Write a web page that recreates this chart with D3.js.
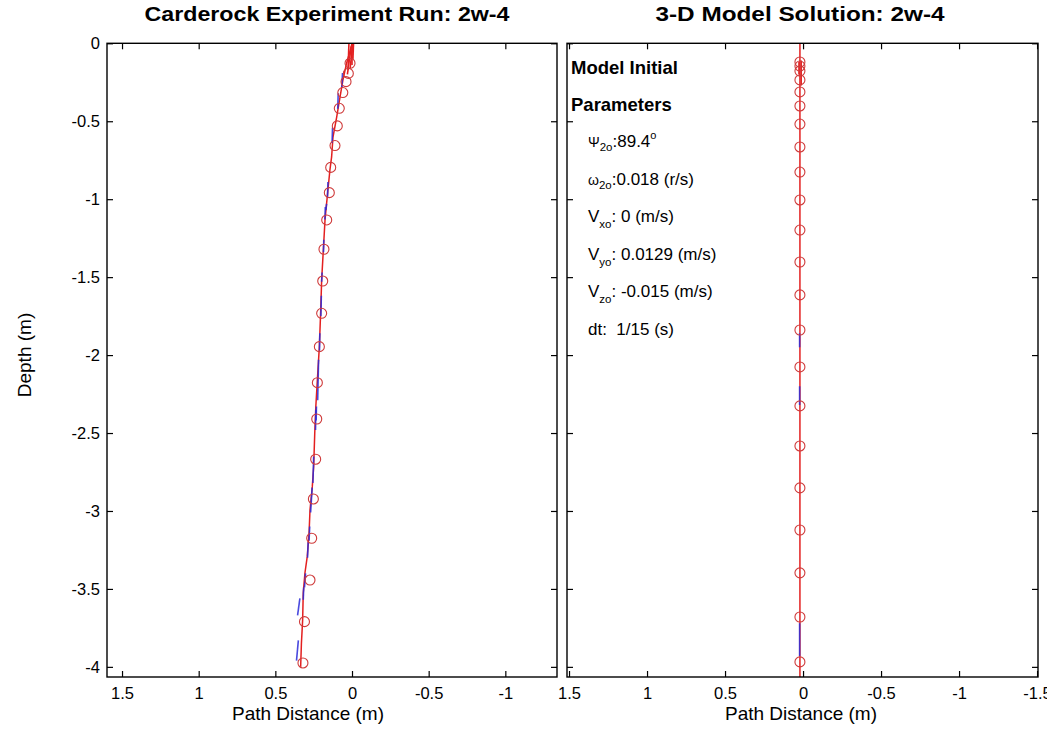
<!DOCTYPE html>
<html><head><meta charset="utf-8">
<script src="https://cdn.jsdelivr.net/npm/d3@7"></script>
<style>
html,body{margin:0;padding:0;background:#fff;}
svg{display:block;font-family:"Liberation Sans",Arial,sans-serif;}
</style></head>
<body>
<svg id="chart" width="1047" height="747"></svg>
<script>
// ---------------- data ----------------
const panelTitles = ["Carderock Experiment Run: 2w-4", "3-D Model Solution: 2w-4"];
const xAxisLabel = "Path Distance (m)";
const yAxisLabel = "Depth (m)";

const depthTicks = [0, -0.5, -1, -1.5, -2, -2.5, -3, -3.5, -4];
const depthTickLabels = ["0", "-0.5", "-1", "-1.5", "-2", "-2.5", "-3", "-3.5", "-4"];
const leftXTicks = [1.5, 1, 0.5, 0, -0.5, -1];
const leftXTickLabels = ["1.5", "1", "0.5", "0", "-0.5", "-1"];
const rightXTicks = [1.5, 1, 0.5, 0, -0.5, -1, -1.5];
const rightXTickLabels = ["1.5", "1", "0.5", "0", "-0.5", "-1", "-1.5"];

// experiment: red trajectory
const expPathX = [0.0, 0.013, 0.035, 0.059, 0.078, 0.10, 0.124, 0.133, 0.144, 0.157, 0.17, 0.176, 0.187, 0.198, 0.204, 0.213, 0.226, 0.236, 0.243, 0.25, 0.259, 0.274, 0.28, 0.292, 0.307, 0.318, 0.322, 0.33, 0.335];
const expPathDepth = [0, -0.05, -0.126, -0.235, -0.344, -0.473, -0.601, -0.729, -0.812, -0.941, -1.07, -1.133, -1.326, -1.518, -1.711, -1.946, -2.16, -2.33, -2.5, -2.716, -2.844, -2.994, -3.14, -3.293, -3.398, -3.526, -3.7, -3.85, -4.0];
// experiment: extra short red strokes near the surface [x1, d1, x2, d2]
const expRedStrokes = [[0.0, 0, 0.0, -0.14], [-0.01, 0, -0.006, -0.1], [0.02, 0, 0.026, -0.17], [0.005, -0.02, 0.03, -0.2], [-0.005, 0, 0.012, -0.16]];
// experiment: short blue body strokes [x1, d1, x2, d2]
const expBlueStrokes = [
  [0.062, -0.19, 0.066, -0.28], [0.09, -0.32, 0.093, -0.42], [0.127, -0.54, 0.13, -0.64],
  [0.157, -0.89, 0.16, -0.99], [0.166, -1.03, 0.17, -1.07], [0.174, -1.05, 0.177, -1.13],
  [0.184, -1.26, 0.186, -1.34], [0.195, -1.47, 0.198, -1.53], [0.2, -1.62, 0.203, -1.75],
  [0.21, -1.86, 0.212, -1.97], [0.218, -2.03, 0.224, -2.29], [0.232, -2.33, 0.234, -2.42],
  [0.236, -2.35, 0.238, -2.48], [0.25, -2.65, 0.255, -2.82], [0.26, -2.85, 0.27, -3.01],
  [0.276, -3.1, 0.28, -3.19], [0.286, -3.2, 0.29, -3.3], [0.303, -3.4, 0.31, -3.49],
  [0.315, -3.49, 0.318, -3.57], [0.34, -3.56, 0.355, -3.67], [0.35, -3.83, 0.362, -3.96]
];
// experiment: circle markers
const expCircleX = [0.013, 0.024, 0.039, 0.060, 0.083, 0.096, 0.111, 0.139, 0.148, 0.165, 0.183, 0.191, 0.198, 0.213, 0.226, 0.230, 0.237, 0.252, 0.263, 0.274, 0.31, 0.32];
const expCircleDepth = [-0.128, -0.193, -0.246, -0.316, -0.417, -0.530, -0.656, -0.796, -0.958, -1.133, -1.321, -1.525, -1.732, -1.946, -2.177, -2.41, -2.668, -2.923, -3.175, -3.443, -3.71, -3.975];

// model: red trajectory, blue strokes, circles
const modelPathX = [0.02, 0.02];
const modelPathDepth = [0, -4.07];
const modelRedStrokes = [[0.012, -0.11, 0.012, -0.27], [0.026, -0.12, 0.026, -0.2]];
const modelBlueStrokes = [[0.022, -1.86, 0.022, -1.95], [0.022, -2.2, 0.022, -2.32], [0.022, -3.72, 0.022, -3.93]];
const modelCircleX = [0.02, 0.02, 0.02, 0.02, 0.02, 0.02, 0.02, 0.02, 0.02, 0.02, 0.02, 0.02, 0.02, 0.02, 0.02, 0.02, 0.02, 0.02, 0.02, 0.02, 0.02, 0.02];
const modelCircleDepth = [-0.120, -0.146, -0.178, -0.235, -0.312, -0.402, -0.518, -0.665, -0.826, -1.005, -1.198, -1.403, -1.614, -1.839, -2.076, -2.326, -2.583, -2.852, -3.122, -3.397, -3.680, -3.968];

// model parameters text box
const paramHeading = ["Model Initial", "Parameters"];
const paramSymbols = ["\u03A8", "\u03C9", "V", "V", "V", "dt"];
const paramSubs = ["2o", "2o", "xo", "yo", "zo", ""];
const paramValues = ["89.4", "0.018 (r/s)", " 0 (m/s)", " 0.0129 (m/s)", " -0.015 (m/s)", "\u00A0\u00A01/15 (s)"];
const paramSups = ["o", "", "", "", "", ""];

// ---------------- drawing ----------------
const svg = d3.select("#chart");
const RED = "#e32020", CIRC = "#cf3a3a", BLUE = "#2a2ad8";

const yTop = 43.3, yBottom = 677;
const y = d3.scaleLinear().domain([0, -4.065]).range([yTop, yBottom]);

const panels = [
  { x: d3.scaleLinear().domain([1.598, -1.337]).range([107, 557]),
    ticks: leftXTicks, tickLabels: leftXTickLabels, showY: true,
    pathX: expPathX, pathD: expPathDepth, red: expRedStrokes, blue: expBlueStrokes,
    cx: expCircleX, cd: expCircleDepth, title: panelTitles[0],
    titleX: 327, titleW: 365, labelX: 308 },
  { x: d3.scaleLinear().domain([1.513, -1.506]).range([567, 1038]),
    ticks: rightXTicks, tickLabels: rightXTickLabels, showY: false,
    pathX: modelPathX, pathD: modelPathDepth, red: modelRedStrokes, blue: modelBlueStrokes,
    cx: modelCircleX, cd: modelCircleDepth, title: panelTitles[1],
    titleX: 800, titleW: 289, labelX: 801 }
];

panels.forEach((p, pi) => {
  const x = p.x;
  const [x0, x1] = x.range();
  const g = svg.append("g");
  const clipId = "clip" + pi;
  svg.append("clipPath").attr("id", clipId).append("rect")
    .attr("x", x0).attr("y", yTop).attr("width", x1 - x0).attr("height", yBottom - yTop);

  const fmt = (arr, labels) => (d) => labels[arr.indexOf(d)];
  const axB = d3.axisBottom(x).tickValues(p.ticks).tickFormat(fmt(p.ticks, p.tickLabels)).tickSizeInner(-6).tickSizeOuter(0).tickPadding(10);
  const axT = d3.axisTop(x).tickValues(p.ticks).tickFormat("").tickSizeInner(-6).tickSizeOuter(0);
  const axL = d3.axisLeft(y).tickValues(depthTicks).tickSizeInner(-6).tickSizeOuter(0).tickPadding(7)
    .tickFormat(p.showY ? fmt(depthTicks, depthTickLabels) : "");
  const axR = d3.axisRight(y).tickValues(depthTicks).tickFormat("").tickSizeInner(-6).tickSizeOuter(0);

  const gb = g.append("g").attr("transform", `translate(0,${yBottom})`).call(axB);
  const gt = g.append("g").attr("transform", `translate(0,${yTop})`).call(axT);
  const gl = g.append("g").attr("transform", `translate(${x0},0)`).call(axL);
  const gr = g.append("g").attr("transform", `translate(${x1},0)`).call(axR);
  [gb, gt, gl, gr].forEach(a => {
    a.select(".domain").remove();
    a.selectAll("line").attr("stroke", "#000").attr("stroke-width", 1.2);
    a.selectAll("text").attr("font-size", 16.5).attr("fill", "#000")
      .attr("font-family", "'Liberation Sans',Arial,sans-serif");
  });

  const dg = g.append("g").attr("clip-path", `url(#${clipId})`);
  const line = d3.line().x(i => x(p.pathX[i])).y(i => y(p.pathD[i]));
  dg.append("path").attr("d", line(d3.range(p.pathX.length)))
    .attr("fill", "none").attr("stroke", RED).attr("stroke-width", 1.5);
  dg.selectAll(".red").data(p.red).enter().append("line").attr("class", "red")
    .attr("x1", d => x(d[0])).attr("y1", d => y(d[1])).attr("x2", d => x(d[2])).attr("y2", d => y(d[3]))
    .attr("stroke", RED).attr("stroke-width", 1.6);
  dg.selectAll(".blue").data(p.blue).enter().append("line").attr("class", "blue")
    .attr("x1", d => x(d[0])).attr("y1", d => y(d[1])).attr("x2", d => x(d[2])).attr("y2", d => y(d[3]))
    .attr("stroke", BLUE).attr("stroke-width", 1.6).attr("stroke-opacity", 0.85);
  dg.selectAll("circle").data(d3.range(p.cx.length)).enter().append("circle")
    .attr("cx", i => x(p.cx[i])).attr("cy", i => y(p.cd[i])).attr("r", 5)
    .attr("fill", "none").attr("stroke", CIRC).attr("stroke-width", 1.1);

  g.append("rect").attr("x", x0).attr("y", yTop).attr("width", x1 - x0).attr("height", yBottom - yTop)
    .attr("fill", "none").attr("stroke", "#000").attr("stroke-width", 1.4);

  svg.append("text").attr("x", p.titleX).attr("y", 21).attr("text-anchor", "middle")
    .attr("font-size", 21).attr("font-weight", "bold")
    .attr("textLength", p.titleW).attr("lengthAdjust", "spacingAndGlyphs").text(p.title);
  svg.append("text").attr("x", p.labelX).attr("y", 720).attr("text-anchor", "middle")
    .attr("font-size", 19).text(xAxisLabel);
});

svg.append("text").attr("transform", `translate(31,355) rotate(-90)`)
  .attr("text-anchor", "middle").attr("font-size", 19).text(yAxisLabel);

const tx = 571;
paramHeading.forEach((t, i) => {
  svg.append("text").attr("x", tx).attr("y", 74 + i * 37).attr("font-size", 18.5)
    .attr("font-weight", "bold").text(t);
});
paramSymbols.forEach((s, i) => {
  const t = svg.append("text").attr("x", 588).attr("y", 147 + i * 37.6).attr("font-size", 17)
    .attr("xml:space", "preserve");
  const isGreek = i < 2;
  t.append("tspan").attr("font-size", isGreek ? 14 : 17).text(s);
  if (paramSubs[i]) {
    t.append("tspan").attr("font-size", 11.5).attr("dy", isGreek ? 4 : 6).text(paramSubs[i]);
    t.append("tspan").attr("dy", isGreek ? -4 : -6).text(":");
  }
  t.append("tspan").text(i === 5 ? ":" + paramValues[i] : paramValues[i]);
  if (paramSups[i]) t.append("tspan").attr("font-size", 11).attr("dy", -8).text(paramSups[i]);
});
</script>
</body></html>
